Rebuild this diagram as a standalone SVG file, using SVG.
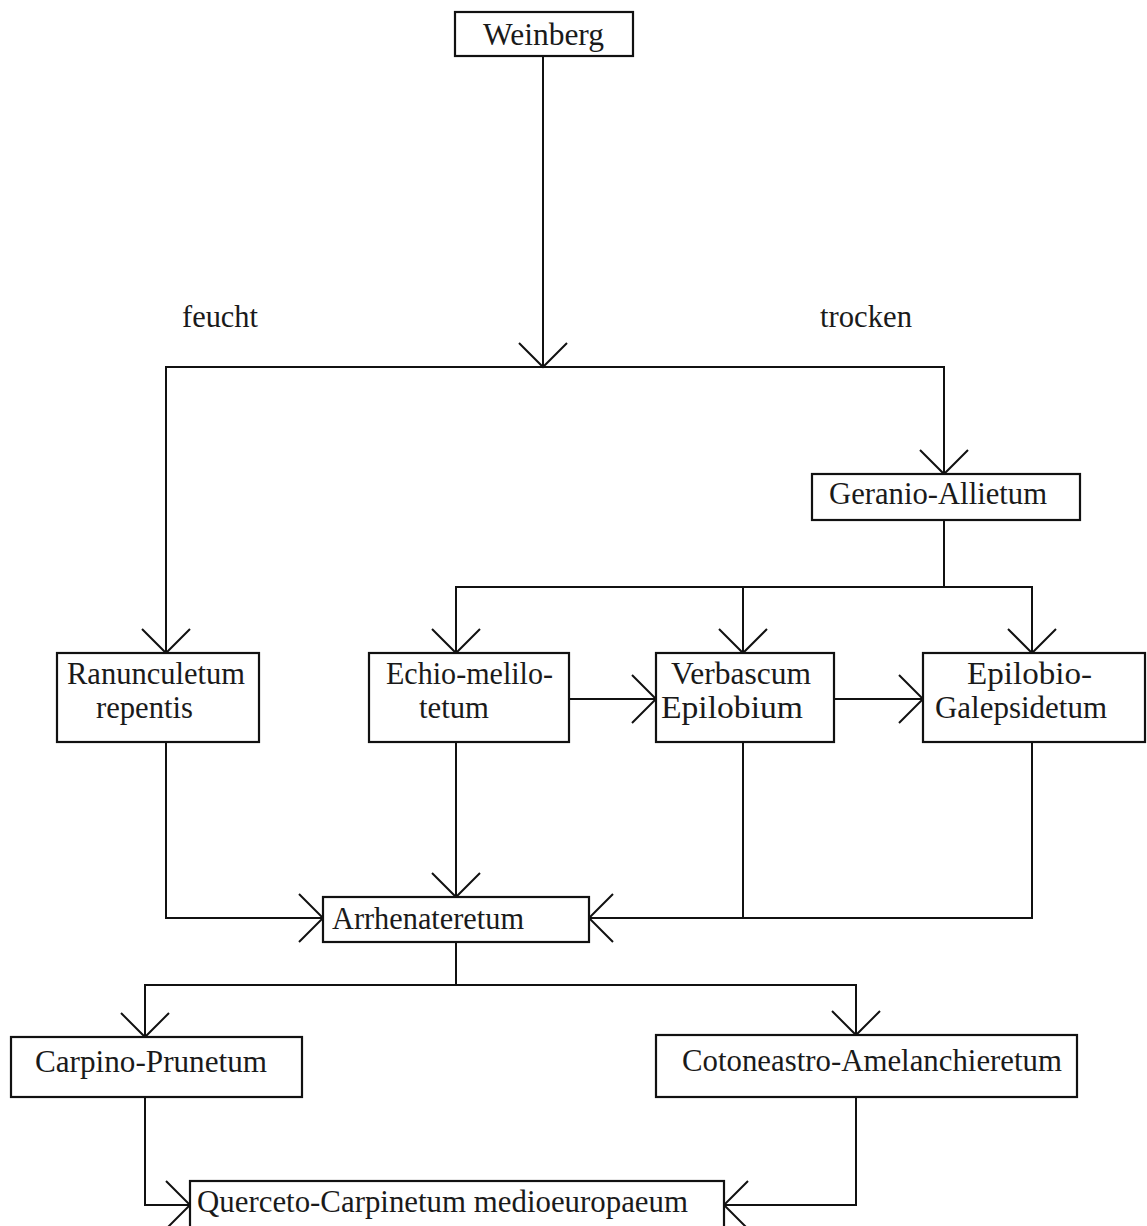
<svg xmlns="http://www.w3.org/2000/svg" width="1147" height="1226" viewBox="0 0 1147 1226">
<style>
  .box { fill: #fff; stroke: #111; stroke-width: 2.2; }
  .t { font-family: "Liberation Serif", "Times New Roman", serif; font-size: 31px; fill: #1a1a1a; }
  .conn path { fill: none; stroke: #111; stroke-width: 2; marker-end: url(#arr); }
  .conn path.plain { marker-end: none; }
</style>
<defs>
  <marker id="arr" viewBox="0 0 30 54" refX="27" refY="27" markerWidth="30" markerHeight="54" markerUnits="userSpaceOnUse" orient="auto">
    <path d="M3,3 L27,27 L3,51" fill="none" stroke="#111" stroke-width="2"/>
  </marker>
</defs>
<rect width="1147" height="1226" fill="#fff"/>

<g id="connectors" class="conn">
  <path d="M543,57 V367"/>
  <path d="M543,367 H166 V653"/>
  <path d="M543,367 H944 V474"/>
  <path d="M944,520 V587 H456 V653"/>
  <path d="M743,587 V653"/>
  <path d="M944,587 H1032 V653"/>
  <path d="M569,699 H656"/>
  <path d="M834,699 H923"/>
  <path d="M166,742 V918 H323"/>
  <path d="M456,742 V897"/>
  <path class="plain" d="M743,742 V918"/>
  <path d="M1032,742 V918 H589"/>
  <path d="M456,942 V985 H145 V1037"/>
  <path d="M456,985 H856 V1035"/>
  <path d="M145,1097 V1205 H190"/>
  <path d="M856,1097 V1205 H724"/>
</g>

<g id="label-feucht"><text class="t" x="182" y="327" textLength="76" lengthAdjust="spacingAndGlyphs">feucht</text></g>
<g id="label-trocken"><text class="t" x="820" y="327" textLength="92" lengthAdjust="spacingAndGlyphs">trocken</text></g>

<g id="weinberg">
  <rect class="box" x="455" y="12" width="178" height="44"/>
  <text class="t" x="483" y="45" textLength="121" lengthAdjust="spacingAndGlyphs">Weinberg</text>
</g>
<g id="geranio-allietum">
  <rect class="box" x="812" y="474" width="268" height="46"/>
  <text class="t" x="829" y="504" textLength="218" lengthAdjust="spacingAndGlyphs">Geranio-Allietum</text>
</g>
<g id="ranunculetum">
  <rect class="box" x="57" y="653" width="202" height="89"/>
  <text class="t" x="67" y="684" textLength="178" lengthAdjust="spacingAndGlyphs">Ranunculetum</text>
  <text class="t" x="96" y="718" textLength="97" lengthAdjust="spacingAndGlyphs">repentis</text>
</g>
<g id="echio-melilotetum">
  <rect class="box" x="369" y="653" width="200" height="89"/>
  <text class="t" x="386" y="684" textLength="167" lengthAdjust="spacingAndGlyphs">Echio-melilo-</text>
  <text class="t" x="419" y="718" textLength="70" lengthAdjust="spacingAndGlyphs">tetum</text>
</g>
<g id="verbascum-epilobium">
  <rect class="box" x="656" y="653" width="178" height="89"/>
  <text class="t" x="671" y="684" textLength="140" lengthAdjust="spacingAndGlyphs">Verbascum</text>
  <text class="t" x="661" y="718" textLength="142" lengthAdjust="spacingAndGlyphs">Epilobium</text>
</g>
<g id="epilobio-galepsidetum">
  <rect class="box" x="923" y="653" width="222" height="89"/>
  <text class="t" x="967" y="684" textLength="125" lengthAdjust="spacingAndGlyphs">Epilobio-</text>
  <text class="t" x="935" y="718" textLength="172" lengthAdjust="spacingAndGlyphs">Galepsidetum</text>
</g>
<g id="arrhenateretum">
  <rect class="box" x="323" y="897" width="266" height="45"/>
  <text class="t" x="332" y="929" textLength="192" lengthAdjust="spacingAndGlyphs">Arrhenateretum</text>
</g>
<g id="carpino-prunetum">
  <rect class="box" x="11" y="1037" width="291" height="60"/>
  <text class="t" x="35" y="1072" font-size="34" textLength="232" lengthAdjust="spacingAndGlyphs">Carpino-Prunetum</text>
</g>
<g id="cotoneastro-amelanchieretum">
  <rect class="box" x="656" y="1035" width="421" height="62"/>
  <text class="t" x="682" y="1071" font-size="34" textLength="380" lengthAdjust="spacingAndGlyphs">Cotoneastro-Amelanchieretum</text>
</g>
<g id="querceto-carpinetum">
  <rect class="box" x="190" y="1181" width="534" height="60"/>
  <text class="t" x="197" y="1212" font-size="32" textLength="491" lengthAdjust="spacingAndGlyphs">Querceto-Carpinetum medioeuropaeum</text>
</g>
</svg>
